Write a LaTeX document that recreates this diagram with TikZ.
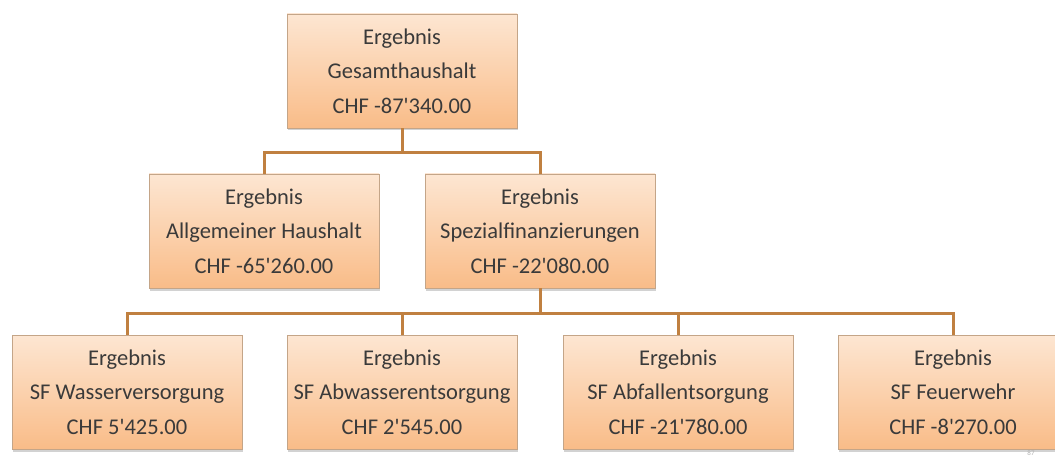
\documentclass[tikz,border=0pt]{standalone}
\usepackage{fontspec}
\setmainfont{Carlito}[Ligatures=TeXOff]
\usetikzlibrary{shadows}
\definecolor{boxtop}{HTML}{FDE6D2}
\definecolor{boxbot}{HTML}{F9BC88}
\definecolor{boxline}{HTML}{C4A588}
\definecolor{conn}{HTML}{C08040}
\definecolor{txt}{HTML}{3A3A3A}
\tikzset{
  orgbox/.style={rectangle, draw=boxline, line width=0.8pt,
    top color=boxtop, bottom color=boxbot,
    minimum width=230pt, minimum height=114pt, inner sep=0pt,
    align=center, text=txt,
    font=\fontsize{22.5}{34.5}\selectfont,
    drop shadow={shadow xshift=1pt, shadow yshift=-2.5pt, opacity=0.35, fill=gray}},
  link/.style={draw=conn, line width=3pt}
}
\begin{document}
\begin{tikzpicture}[x=1pt,y=-1pt]
\useasboundingbox (0,0) rectangle (1055,457);
\clip (0,0) rectangle (1055,457);
\fill[white] (0,0) rectangle (1055,457);
\node[orgbox] (top) at (402,71) {Ergebnis\\Gesamthaushalt\\CHF -87'340.00};
\node[orgbox] (allg) at (264,231) {Ergebnis\\Allgemeiner Haushalt\\CHF -65'260.00};
\node[orgbox] (spez) at (540,231) {Ergebnis\\Spezialfinanzierungen\\CHF -22'080.00};
\node[orgbox] (wass) at (127,392) {Ergebnis\\SF Wasserversorgung\\CHF 5'425.00};
\node[orgbox] (abw) at (402,392) {Ergebnis\\SF Abwasserentsorgung\\CHF 2'545.00};
\node[orgbox] (abf) at (678,392) {Ergebnis\\SF Abfallentsorgung\\CHF -21'780.00};
\node[orgbox] (feu) at (953,392) {Ergebnis\\SF Feuerwehr\\CHF -8'270.00};
\coordinate (busA) at (402,153);
\coordinate (busB) at (540,313);
\draw[link] (top.south) -- (busA);
\draw[link] (busA) -| (allg.north);
\draw[link] (busA) -| (spez.north);
\draw[link] (spez.south) -- (busB);
\draw[link] (busB) -| (wass.north);
\draw[link] (busB) -| (abw.north);
\draw[link] (busB) -| (abf.north);
\draw[link] (busB) -| (feu.north);
\node[text=gray!60, font=\fontsize{7}{8}\selectfont, inner sep=0pt] (pg) at (1031,453) {87};
\end{tikzpicture}
\end{document}
